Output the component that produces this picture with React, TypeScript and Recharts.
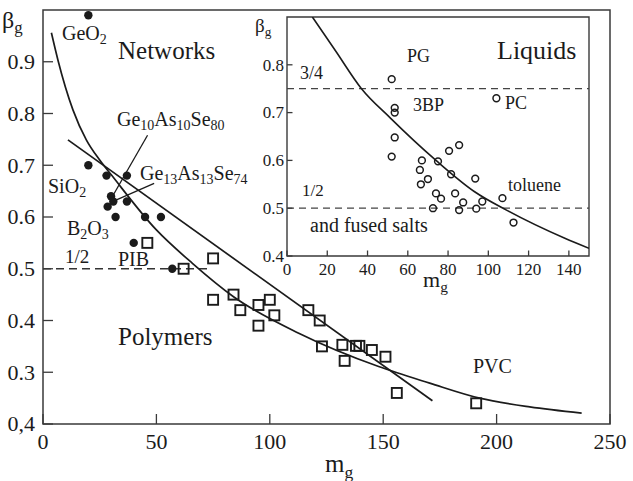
import React from 'react'
import {
  ComposedChart,
  Line,
  Scatter,
  XAxis,
  YAxis,
  ReferenceLine,
  ReferenceArea,
} from 'recharts'

const FONT = '"Liberation Serif", "Times New Roman", serif'
const INK = '#1b1b1b'
const FRAME = '#3a3a3a'

// --- main panel: beta_g vs m_g ---
const mainXTicks = [0, 50, 100, 150, 200, 250]
const mainYTicks = [0.2, 0.3, 0.4, 0.5, 0.6, 0.7, 0.8, 0.9]
const mainYLabels = ['0,4', '0.3', '0.4', '0.5', '0.6', '0.7', '0.8', '0.9']

// network glasses (filled circles)
const networkM = [20, 20, 28, 37, 30, 28.5, 31, 37, 32, 45, 52, 40, 57]
const networkBeta = [0.99, 0.7, 0.68, 0.68, 0.64, 0.62, 0.63, 0.63, 0.6, 0.6, 0.6, 0.55, 0.5]

// polymers (open squares)
const polymerM = [46, 62, 75, 75, 84, 87, 95, 95, 100, 102, 117, 122, 123, 132, 133, 138, 139.5, 145, 151, 156, 191]
const polymerBeta = [0.55, 0.5, 0.52, 0.44, 0.45, 0.42, 0.43, 0.39, 0.44, 0.41, 0.42, 0.4, 0.35, 0.353, 0.322, 0.351, 0.351, 0.343, 0.33, 0.26, 0.24]

// curved trend through networks + polymers
const curveM = [3.7, 6.6, 13.2, 19.1, 25, 30.2, 50, 66, 84, 113, 148, 170.5, 192.5, 214.6, 237.5]
const curveBeta = [0.956, 0.903, 0.807, 0.749, 0.71, 0.681, 0.575, 0.51, 0.446, 0.375, 0.311, 0.279, 0.25, 0.233, 0.221]

// straight trend
const lineM = [11, 171.7]
const lineBeta = [0.749, 0.245]

// --- inset: liquids ---
const insetXTicks = [0, 20, 40, 60, 80, 100, 120, 140]
const insetYTicks = [0.4, 0.5, 0.6, 0.7, 0.8]
const insetYLabels = ['0.4', '0.5', '0.6', '0.7', '0.8']

const liquidM = [52, 53.5, 53.5, 53.5, 52, 104, 67, 66, 66.5, 70, 75, 80.5, 85.5, 81.5, 74, 76.5, 72.5, 83.5, 87.5, 85.5, 93.5, 94, 97, 107, 112.5]
const liquidBeta = [0.77, 0.71, 0.7, 0.648, 0.608, 0.73, 0.6, 0.58, 0.55, 0.561, 0.598, 0.62, 0.632, 0.571, 0.531, 0.52, 0.5, 0.531, 0.512, 0.496, 0.562, 0.499, 0.514, 0.521, 0.47]

const liquidCurveM = [12.6, 24, 37, 51, 74, 93, 109, 138, 150]
const liquidCurveBeta = [0.9, 0.83, 0.75, 0.69, 0.6, 0.535, 0.496, 0.437, 0.416]

const pts = (xs: number[], ys: number[]) => xs.map((x, i) => ({ x, y: ys[i] }))

const networks = pts(networkM, networkBeta)
const polymers = pts(polymerM, polymerBeta)
const curve = pts(curveM, curveBeta)
const straight = pts(lineM, lineBeta)
const liquids = pts(liquidM, liquidBeta)
const liquidCurve = pts(liquidCurveM, liquidCurveBeta)

const Dot = ({ cx, cy }: any) => <circle cx={cx} cy={cy} r={4.2} fill={INK} />
const Square = ({ cx, cy }: any) => (
  <rect x={cx - 5} y={cy - 5} width={10} height={10} fill="none" stroke={INK} strokeWidth={1.9} />
)
const Ring = ({ cx, cy }: any) => (
  <circle cx={cx} cy={cy} r={3.4} fill="none" stroke={INK} strokeWidth={1.5} />
)

function makeXTick(len: number, size: number, gap: number) {
  return ({ x, y, payload }: any) => (
    <g>
      <line x1={x} y1={y} x2={x} y2={y - len} stroke={FRAME} strokeWidth={1.3} />
      <text x={x} y={y + gap} textAnchor="middle" fontSize={size} fontFamily={FONT} fill={INK}>
        {payload.value}
      </text>
    </g>
  )
}

function makeYTick(len: number, size: number, gap: number, labels: string[]) {
  return ({ x, y, index }: any) => (
    <g>
      <line x1={x} y1={y} x2={x + len} y2={y} stroke={FRAME} strokeWidth={1.3} />
      <text x={x - gap} y={y} dy="0.34em" textAnchor="end" fontSize={size} fontFamily={FONT} fill={INK}>
        {labels[index]}
      </text>
    </g>
  )
}

// text with subscripts: [text, isSubscript]
function Chem({ x, y, size, parts, sub = 0.7 }: { x: number; y: number; size: number; parts: [string, boolean][]; sub?: number }) {
  const shift = size * 0.22
  return (
    <text x={x} y={y} fontSize={size} fontFamily={FONT} fill={INK}>
      {parts.map(([t, s], i) => {
        const prev = i > 0 && parts[i - 1][1]
        const dy = s && !prev ? shift : !s && prev ? -shift : 0
        return (
          <tspan key={i} dy={dy} fontSize={s ? size * sub : size}>
            {t}
          </tspan>
        )
      })}
    </text>
  )
}

function MainChart() {
  return (
    <ComposedChart width={633} height={481} margin={{ top: 10, right: 23, bottom: 0, left: 0 }}>
      <XAxis
        type="number"
        dataKey="x"
        domain={[0, 250]}
        ticks={mainXTicks}
        interval={0}
        height={57}
        axisLine={false}
        tickLine={false}
        tickSize={0}
        tickMargin={0}
        tick={makeXTick(10, 22, 25)}
        allowDataOverflow
      />
      <YAxis
        type="number"
        dataKey="y"
        domain={[0.2, 1.0]}
        ticks={mainYTicks}
        interval={0}
        width={43}
        axisLine={false}
        tickLine={false}
        tickSize={0}
        tickMargin={0}
        tick={makeYTick(10, 22, 8, mainYLabels)}
        allowDataOverflow
      />
      <ReferenceArea x1={0} x2={250} y1={0.2} y2={1.0} fill="none" stroke={FRAME} strokeWidth={1.5} />
      <ReferenceLine
        segment={[{ x: 0, y: 0.5 }, { x: 73.6, y: 0.5 }]}
        stroke="#333"
        strokeWidth={1.3}
        strokeDasharray="8 5"
      />
      <ReferenceLine segment={[{ x: 46.1, y: 0.758 }, { x: 31.3, y: 0.645 }]} stroke={INK} strokeWidth={1.3} />
      <ReferenceLine segment={[{ x: 49, y: 0.665 }, { x: 32.4, y: 0.633 }]} stroke={INK} strokeWidth={1.3} />
      <Line data={curve} dataKey="y" type="monotone" stroke={INK} strokeWidth={1.7} dot={false} isAnimationActive={false} />
      <Line data={straight} dataKey="y" type="linear" stroke={INK} strokeWidth={1.7} dot={false} isAnimationActive={false} />
      <Scatter data={networks} shape={Dot} isAnimationActive={false} />
      <Scatter data={polymers} shape={Square} isAnimationActive={false} />
    </ComposedChart>
  )
}

function InsetChart() {
  return (
    <ComposedChart width={350} height={300} margin={{ top: 7, right: 11, bottom: 0, left: 0 }}>
      <XAxis
        type="number"
        dataKey="x"
        domain={[0, 150]}
        ticks={insetXTicks}
        interval={0}
        height={54}
        axisLine={false}
        tickLine={false}
        tickSize={0}
        tickMargin={0}
        tick={makeXTick(5.5, 17, 19)}
        allowDataOverflow
      />
      <YAxis
        type="number"
        dataKey="y"
        domain={[0.4, 0.9]}
        ticks={insetYTicks}
        interval={0}
        width={37}
        axisLine={false}
        tickLine={false}
        tickSize={0}
        tickMargin={0}
        tick={makeYTick(5.5, 17, 3, insetYLabels)}
        allowDataOverflow
      />
      <ReferenceArea x1={0} x2={150} y1={0.4} y2={0.9} fill="none" stroke={FRAME} strokeWidth={1.4} />
      <ReferenceLine y={0.75} stroke="#444" strokeWidth={1.3} strokeDasharray="7 5" />
      <ReferenceLine y={0.5} stroke="#444" strokeWidth={1.3} strokeDasharray="7 5" />
      <Line data={liquidCurve} dataKey="y" type="monotone" stroke={INK} strokeWidth={1.6} dot={false} isAnimationActive={false} />
      <Scatter data={liquids} shape={Ring} isAnimationActive={false} />
    </ComposedChart>
  )
}

function Labels() {
  return (
    <svg width={633} height={481} style={{ position: 'absolute', left: 0, top: 0, pointerEvents: 'none' }}>
      {/* axis titles */}
      <Chem x={2} y={28} size={24} parts={[['β', false], ['g', true]]} />
      <Chem x={325} y={472} size={25} parts={[['m', false], ['g', true]]} />
      <Chem x={255} y={32} size={19} parts={[['β', false], ['g', true]]} />
      <Chem x={423} y={287} size={22} parts={[['m', false], ['g', true]]} />

      {/* main panel annotations */}
      <Chem x={62} y={40} size={20} parts={[['GeO', false], ['2', true]]} />
      <text x={118} y={59} fontSize={25} fontFamily={FONT} fill={INK}>Networks</text>
      <Chem x={117} y={126} size={20} parts={[['Ge', false], ['10', true], ['As', false], ['10', true], ['Se', false], ['80', true]]} />
      <Chem x={140} y={180} size={20} parts={[['Ge', false], ['13', true], ['As', false], ['13', true], ['Se', false], ['74', true]]} />
      <Chem x={48} y={193} size={20} parts={[['SiO', false], ['2', true]]} />
      <Chem x={67} y={235} size={20} parts={[['B', false], ['2', true], ['O', false], ['3', true]]} />
      <text x={65} y={263} fontSize={19} fontFamily={FONT} fill={INK}>1/2</text>
      <text x={118} y={266} fontSize={20} fontFamily={FONT} fill={INK}>PIB</text>
      <text x={118} y={345} fontSize={25} fontFamily={FONT} fill={INK}>Polymers</text>
      <text x={473} y={373} fontSize={20} fontFamily={FONT} fill={INK}>PVC</text>

      {/* inset annotations */}
      <text x={497} y={59} fontSize={26} fontFamily={FONT} fill={INK}>Liquids</text>
      <text x={407} y={62} fontSize={18} fontFamily={FONT} fill={INK}>PG</text>
      <text x={413} y={111} fontSize={18} fontFamily={FONT} fill={INK}>3BP</text>
      <text x={505} y={109} fontSize={18} fontFamily={FONT} fill={INK}>PC</text>
      <text x={508} y={191} fontSize={18} fontFamily={FONT} fill={INK}>toluene</text>
      <text x={310} y={232} fontSize={20} fontFamily={FONT} fill={INK}>and fused salts</text>
      <text x={300} y={79} fontSize={18} fontFamily={FONT} fill={INK}>3/4</text>
      <text x={302} y={196} fontSize={17} fontFamily={FONT} fill={INK}>1/2</text>
    </svg>
  )
}

export default function App() {
  return (
    <div style={{ position: 'relative', width: 633, height: 481, background: '#fff' }}>
      <style>{'body{margin:0}'}</style>
      <MainChart />
      <div style={{ position: 'absolute', left: 250, top: 10 }}>
        <InsetChart />
      </div>
      <Labels />
    </div>
  )
}
